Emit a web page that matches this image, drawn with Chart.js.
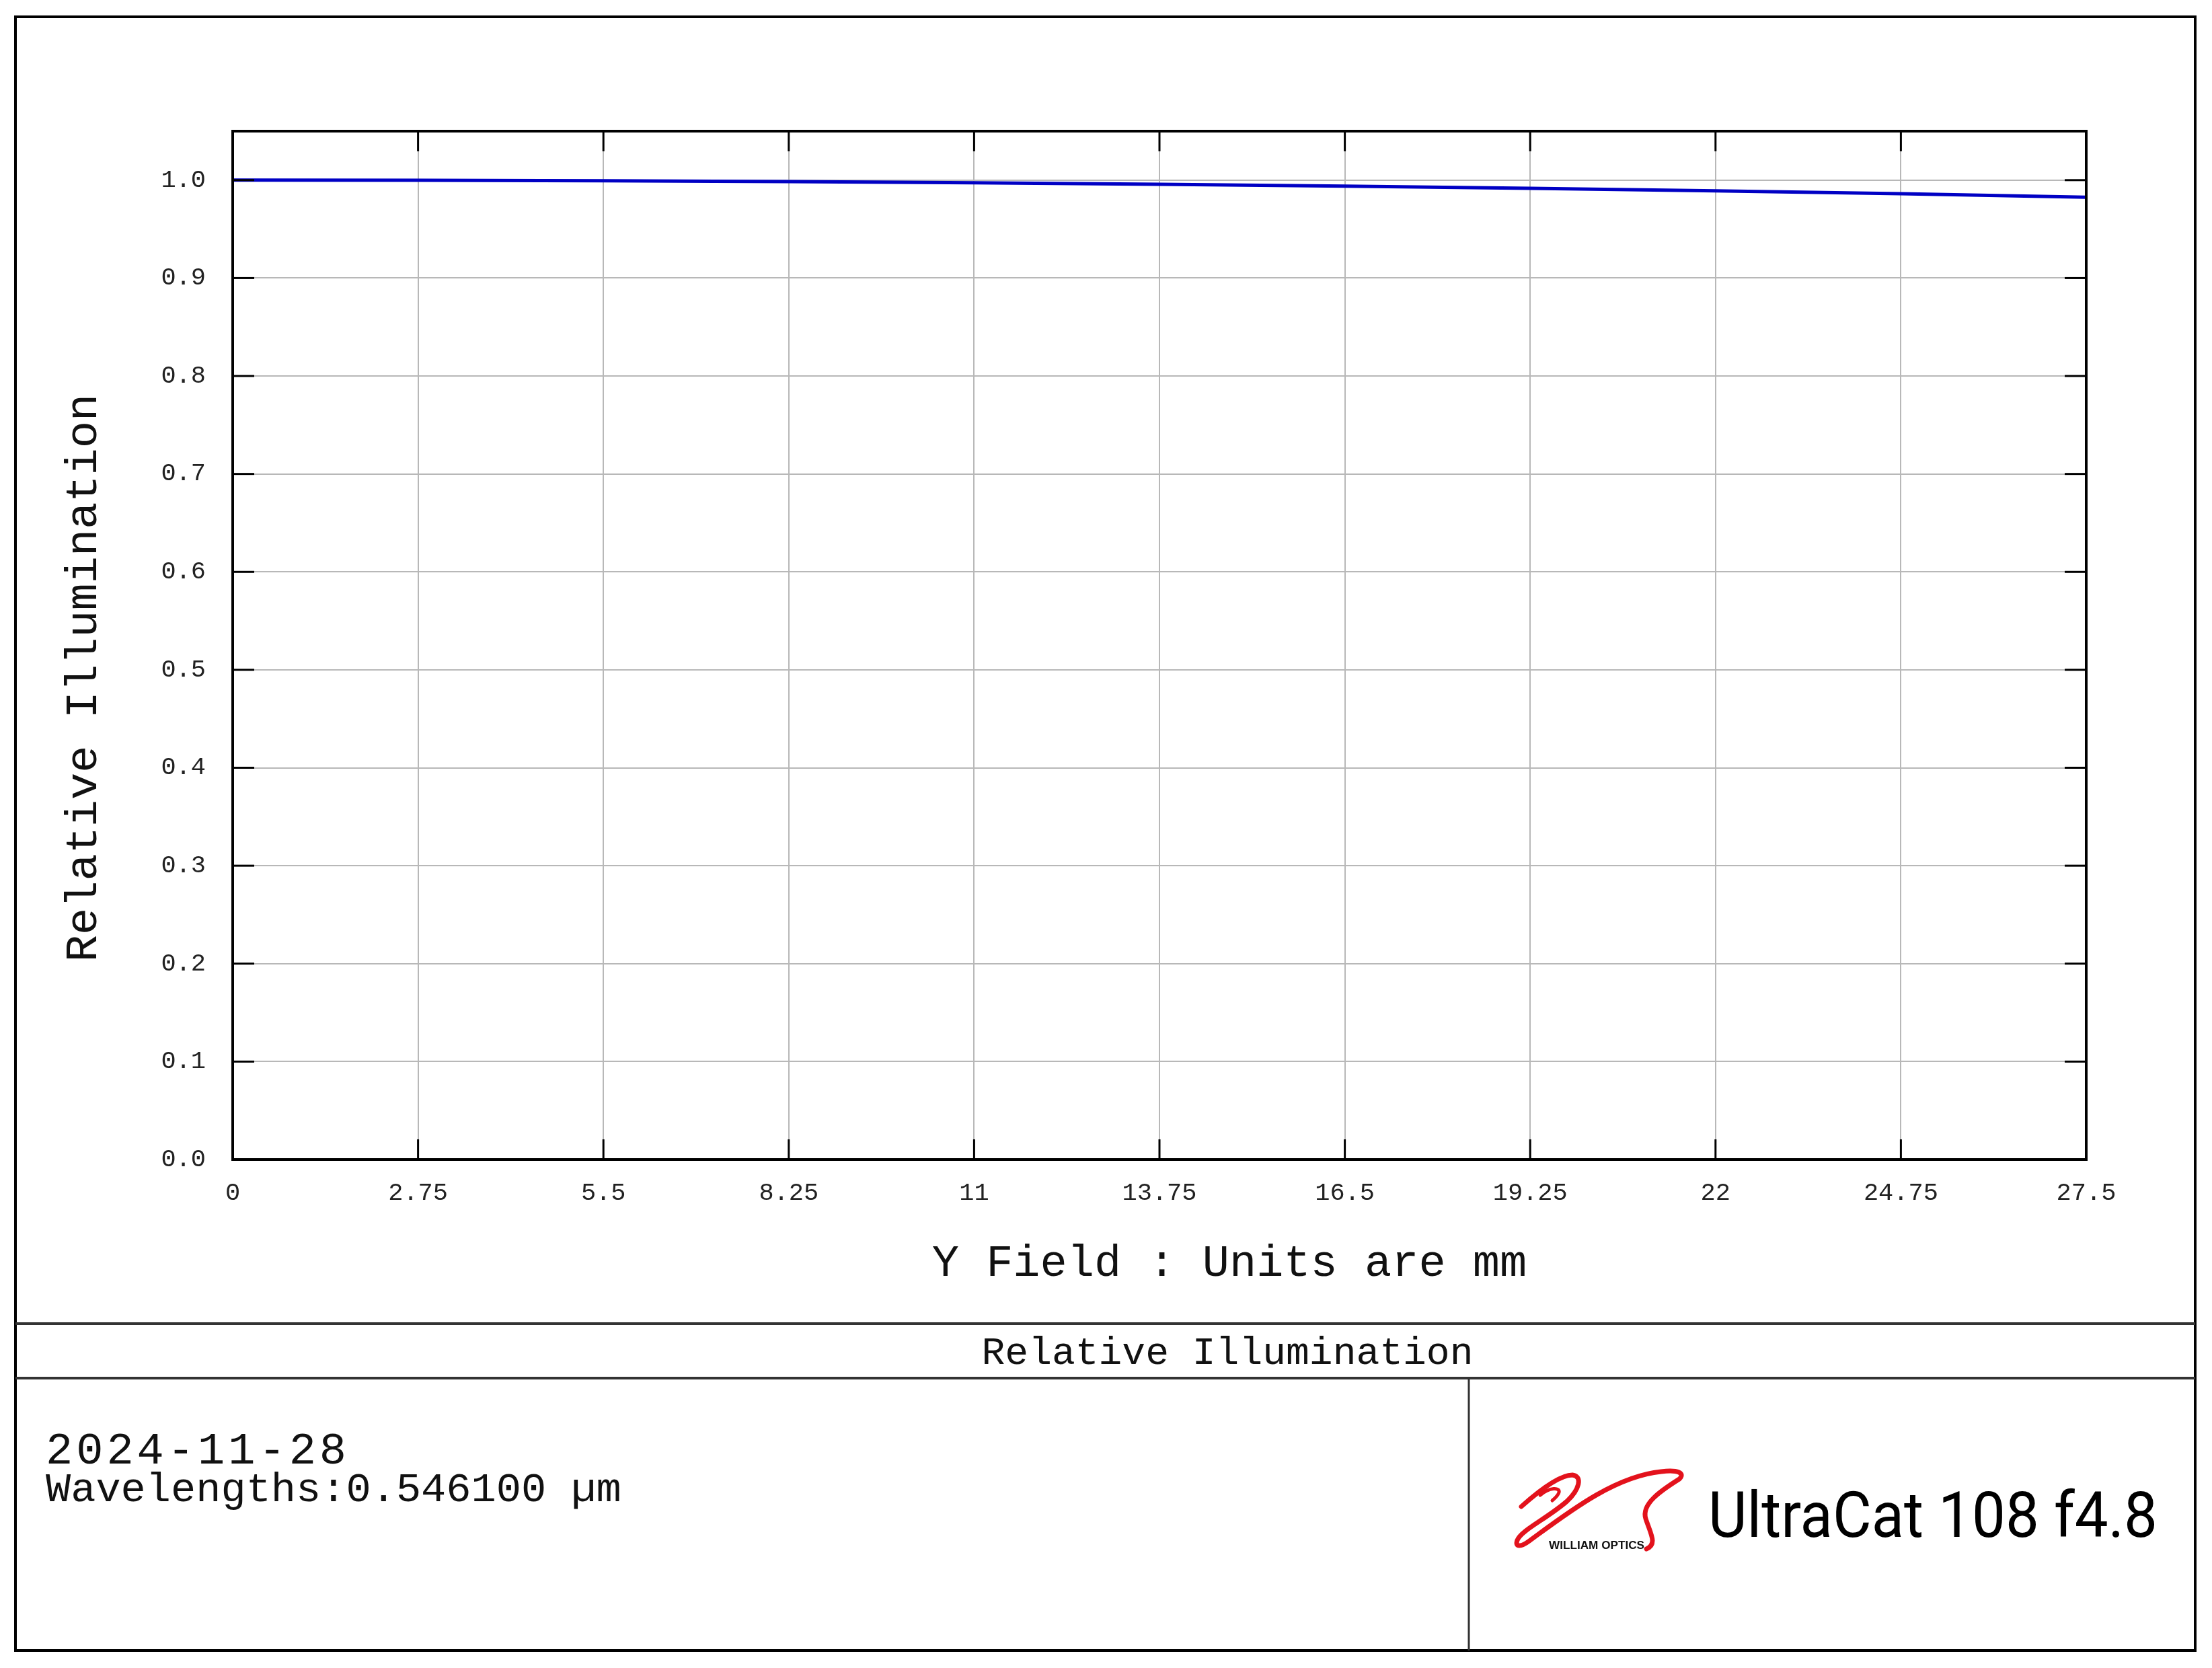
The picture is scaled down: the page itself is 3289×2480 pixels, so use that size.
<!DOCTYPE html>
<html lang="en">
<head>
  <meta charset="UTF-8">
  <title>Relative Illumination</title>
  <script src="https://cdn.jsdelivr.net/npm/chart.js"></script>
  <style>
    html, body { margin: 0; padding: 0; background: #fff; }
    #wrap { width: 3289px; height: 2480px; position: relative; }
  </style>
</head>
<body>

<div id="wrap"><canvas id="riChart"></canvas></div>

<script>
// Y field (mm) and relative illumination
const fieldMm = [0, 2.75, 5.5, 8.25, 11, 13.75, 16.5, 19.25, 22, 24.75, 27.5];
const relIllum = [1.0000, 0.9998, 0.9993, 0.9985, 0.9973, 0.9958, 0.9939, 0.9917, 0.9891, 0.9862, 0.9826];

const xTicks = [0, 2.75, 5.5, 8.25, 11, 13.75, 16.5, 19.25, 22, 24.75, 27.5];
const xTickLabels = ['0', '2.75', '5.5', '8.25', '11', '13.75', '16.5', '19.25', '22', '24.75', '27.5'];
const yTicks = [0, 0.1, 0.2, 0.3, 0.4, 0.5, 0.6, 0.7, 0.8, 0.9, 1.0];
const yTickLabels = ['0.0', '0.1', '0.2', '0.3', '0.4', '0.5', '0.6', '0.7', '0.8', '0.9', '1.0'];

const mono = '"Liberation Mono", "DejaVu Sans Mono", monospace';

// frame, inward ticks, titles and the footer block
const framePlugin = {
  id: 'frame',
  afterDraw(chart) {
    const ctx = chart.ctx;
    const a = chart.chartArea;
    const xs = chart.scales.x, ys = chart.scales.y;
    const line = (x1, y1, x2, y2) => { ctx.beginPath(); ctx.moveTo(x1, y1); ctx.lineTo(x2, y2); ctx.stroke(); };
    ctx.save();

    ctx.strokeStyle = '#000';
    ctx.lineWidth = 3;
    xTicks.forEach(v => {
      const px = xs.getPixelForValue(v);
      line(px, a.bottom, px, a.bottom - 30);
      line(px, a.top, px, a.top + 30);
    });
    yTicks.forEach(v => {
      const py = ys.getPixelForValue(v);
      line(a.left, py, a.left + 32, py);
      line(a.right, py, a.right - 32, py);
    });
    ctx.lineWidth = 4;
    ctx.strokeRect(a.left, a.top, a.right - a.left, a.bottom - a.top);

    // axis titles
    ctx.fillStyle = '#111';
    ctx.font = '67px ' + mono;
    ctx.textAlign = 'center';
    ctx.textBaseline = 'alphabetic';
    ctx.fillText('Y Field : Units are mm', 1828, 1897);
    ctx.save();
    ctx.translate(143, 1008);
    ctx.rotate(-Math.PI / 2);
    ctx.fillText('Relative Illumination', 0, 0);
    ctx.restore();

    // page frame and footer
    ctx.strokeStyle = '#000';
    ctx.lineWidth = 4;
    ctx.strokeRect(23, 25, 3241, 2429);
    ctx.strokeStyle = '#333';
    line(23, 1968, 3264, 1968);
    line(23, 2049, 3264, 2049);
    ctx.lineWidth = 3;
    line(2184, 2049, 2184, 2454);

    ctx.fillStyle = '#111';
    ctx.font = '58px ' + mono;
    ctx.fillText('Relative Illumination', 1825, 2028);

    ctx.textAlign = 'left';
    ctx.font = '67px ' + mono;
    ctx.letterSpacing = '5px';
    ctx.fillText('2024-11-28', 68, 2176);
    ctx.letterSpacing = '0px';
    ctx.font = '62px ' + mono;
    ctx.fillText('Wavelengths:0.546100 \u00b5m', 68, 2232);

    // logo swoosh
    ctx.strokeStyle = '#e3121c';
    ctx.lineCap = 'round';
    ctx.lineJoin = 'round';
    ctx.lineWidth = 7;
    ctx.beginPath();
    ctx.moveTo(2262, 2240);
    ctx.bezierCurveTo(2290, 2215, 2320, 2193, 2338, 2193);
    ctx.bezierCurveTo(2354, 2195, 2348, 2215, 2330, 2232);
    ctx.bezierCurveTo(2300, 2258, 2262, 2275, 2256, 2290);
    ctx.bezierCurveTo(2252, 2301, 2262, 2300, 2274, 2291);
    ctx.bezierCurveTo(2330, 2250, 2400, 2195, 2470, 2188);
    ctx.bezierCurveTo(2495, 2185, 2506, 2190, 2497, 2199);
    ctx.bezierCurveTo(2470, 2216, 2440, 2236, 2447, 2258);
    ctx.bezierCurveTo(2454, 2280, 2465, 2296, 2448, 2303);
    ctx.stroke();
    ctx.lineWidth = 5;
    ctx.beginPath();
    ctx.moveTo(2290, 2223);
    ctx.bezierCurveTo(2304, 2211, 2320, 2211, 2318, 2219);
    ctx.bezierCurveTo(2316, 2225, 2311, 2228, 2308, 2231);
    ctx.stroke();

    ctx.fillStyle = '#111';
    ctx.font = 'bold 17px "Liberation Sans Narrow", "Liberation Sans", sans-serif';
    const wo = 'WILLIAM OPTICS';
    const ww = ctx.measureText(wo).width;
    ctx.save();
    ctx.translate(2303, 2303);
    ctx.scale(142 / ww, 1);
    ctx.fillText(wo, 0, 0);
    ctx.restore();

    // product name, squeezed to the width in the reference
    const name = 'UltraCat 108 f4.8';
    ctx.font = '95px Roboto, "Noto Sans", sans-serif';
    const w = ctx.measureText(name).width;
    ctx.save();
    ctx.translate(2540, 2285);
    ctx.scale(668 / w, 1);
    ctx.fillStyle = '#000';
    ctx.fillText(name, 0, 0);
    ctx.restore();

    ctx.restore();
  }
};

new Chart(document.getElementById('riChart'), {
  type: 'line',
  data: {
    labels: fieldMm,
    datasets: [{
      label: 'Relative Illumination',
      data: fieldMm.map((x, i) => ({ x: x, y: relIllum[i] })),
      borderColor: '#0000c4',
      borderWidth: 5,
      pointRadius: 0,
      tension: 0,
      fill: false
    }]
  },
  options: {
    responsive: true,
    maintainAspectRatio: false,
    animation: false,
    devicePixelRatio: 1,
    layout: { padding: { left: 0, top: 195, right: 187, bottom: 0 } },
    plugins: { legend: { display: false }, tooltip: { enabled: false } },
    scales: {
      x: {
        type: 'linear',
        min: 0,
        max: 27.5,
        afterFit: s => { s.height = 756; },
        afterBuildTicks: s => { s.ticks = xTicks.map(v => ({ value: v })); },
        grid: { color: '#b8b8b8', lineWidth: 2, drawTicks: false },
        border: { display: false },
        ticks: {
          padding: 28,
          color: '#222',
          font: { family: mono, size: 37 },
          maxRotation: 0,
          autoSkip: false,
          callback: (v, i) => xTickLabels[i]
        }
      },
      y: {
        type: 'linear',
        min: 0,
        max: 1.05,
        afterFit: s => { s.width = 346; },
        afterBuildTicks: s => { s.ticks = yTicks.map(v => ({ value: v })); },
        grid: { color: '#b8b8b8', lineWidth: 2, drawTicks: false },
        border: { display: false },
        ticks: {
          padding: 40,
          color: '#222',
          font: { family: mono, size: 37 },
          autoSkip: false,
          callback: (v, i) => yTickLabels[i]
        }
      }
    }
  },
  plugins: [framePlugin]
});
</script>

</body>
</html>
